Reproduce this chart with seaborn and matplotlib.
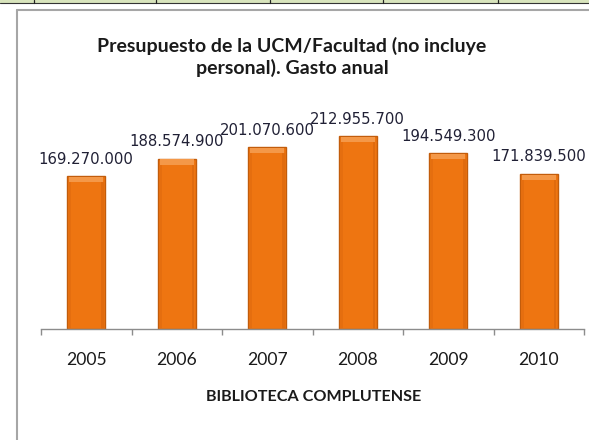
import matplotlib
matplotlib.use("Agg")
import matplotlib.pyplot as plt
import seaborn as sns
import pandas as pd
from matplotlib.lines import Line2D
from matplotlib.patches import Rectangle

# ---- data ----
years = ["2005", "2006", "2007", "2008", "2009", "2010"]
gasto = [169270000, 188574900, 201070600, 212955700, 194549300, 171839500]
labels = ["169.270.000", "188.574.900", "201.070.600", "212.955.700", "194.549.300", "171.839.500"]
title_text = "Presupuesto de la UCM/Facultad (no incluye\npersonal). Gasto anual"
xlabel_text = "BIBLIOTECA COMPLUTENSE"

df = pd.DataFrame({"year": years, "gasto": gasto})

sns.set_style("white")
W, H = 589, 440
fig = plt.figure(figsize=(W / 100, H / 100), dpi=100)

def fx(px):
    return px / W

def fy(py):
    return 1 - py / H

# axes placement (pixel coords of reference)
left, right, top, bottom = 41, 584, 103, 329
ax = fig.add_axes([fx(left), fy(bottom), fx(right - left), (bottom - top) / H])

sns.barplot(data=df, x="year", y="gasto", ax=ax, color="#EE7511",
            width=0.42, edgecolor="#C25C0B", linewidth=1.0, saturation=1)
ax.set_ylim(0, 250e6)
ax.set_xlim(-0.5, len(years) - 0.5)

# soft bevel-like highlight on each bar (derived from bar geometry)
for p in list(ax.patches):
    x0, w, h = p.get_x(), p.get_width(), p.get_height()
    hl_h = 250e6 * 6 / (bottom - top)
    z = p.get_zorder() + 0.1
    ax.add_patch(Rectangle((x0 + w * 0.05, h - hl_h), w * 0.90, hl_h * 0.85,
                           facecolor="#F49848", edgecolor="none", zorder=z))
    ax.add_patch(Rectangle((x0 + w * 0.04, 0), w * 0.07, h - hl_h,
                           facecolor="#E56E0F", edgecolor="none", zorder=z))
    ax.add_patch(Rectangle((x0 + w * 0.89, 0), w * 0.07, h - hl_h,
                           facecolor="#E06B0E", edgecolor="none", zorder=z))

# value labels
for i, (v, lab) in enumerate(zip(gasto, labels)):
    ax.annotate(lab, xy=(i, v), xytext=(0, 12), textcoords="offset points",
                ha="center", va="center", fontsize=10.7, family="DejaVu Sans",
                color="#202035")

# axes styling
for s in ["left", "right", "top"]:
    ax.spines[s].set_visible(False)
ax.spines["bottom"].set_color("#8C8C8C")
ax.spines["bottom"].set_linewidth(1.0)
ax.set_yticks([])
ax.set_xticks([i - 0.5 for i in range(len(years) + 1)])
ax.set_xticklabels([])
ax.tick_params(axis="x", which="both", bottom=True, direction="out", length=4.5,
               color="#8C8C8C", width=1.0)
for i, y in enumerate(years):
    ax.text(i, -0.135, y, transform=ax.get_xaxis_transform(), ha="center",
            va="center", fontsize=12.6, family="Lato", color="#1a1a1a")
ax.set_xlabel("")
ax.set_ylabel("")

# x-axis title
fig.text(fx(314), fy(397), xlabel_text, ha="center", va="center",
         fontsize=11.6, family="Lato", fontweight="bold", color="#1a1a1a")

# chart title
fig.text(fx(292), fy(57), title_text, ha="center", va="center",
         fontsize=14, family="Lato", fontweight="bold", color="#1a1a1a",
         linespacing=1.3)

# spreadsheet strip at top
fig.patches.append(Rectangle((0, fy(3.3)), 1, 3.3 / H, transform=fig.transFigure,
                             facecolor="#D8E4BC", edgecolor="none"))
fig.lines.append(Line2D([0, 1], [fy(3.3), fy(3.3)], transform=fig.transFigure,
                        color="#333333", linewidth=0.8))
for xv in [34, 156, 270, 383, 498]:
    fig.lines.append(Line2D([fx(xv), fx(xv)], [fy(3.3), 1], transform=fig.transFigure,
                            color="#222222", linewidth=0.9))

# chart frame
fig.lines.append(Line2D([fx(17), fx(17)], [fy(10), 0], transform=fig.transFigure,
                        color="#A6A6A6", linewidth=1.5))
fig.lines.append(Line2D([fx(17), 1], [fy(10), fy(10)], transform=fig.transFigure,
                        color="#A6A6A6", linewidth=1.5))

fig.savefig("out.png", dpi=100)
